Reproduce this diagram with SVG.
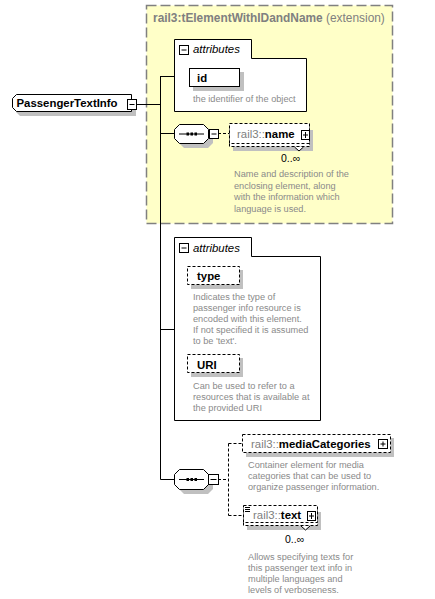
<svg xmlns="http://www.w3.org/2000/svg" width="435" height="599" viewBox="0 0 435 599">
<style>
text{font-family:"Liberation Sans",Arial,sans-serif}
.title{font-size:11.9px;font-weight:bold;fill:#808080}
.ext{font-size:11.9px;fill:#808080}
.nm{font-size:11.4px;font-weight:bold;fill:#000}
.pre{font-size:11.4px;fill:#808080}
.desc{font-size:9.2px;fill:#8a8a8a}
.att{font-size:11.4px;font-style:italic;fill:#000}
.occ{font-size:10.5px;fill:#000}
.shadow{fill:#c0c0c0;stroke:none}
.box{fill:#fff;stroke:#000;stroke-width:1}
.dbox{fill:#fff;stroke:#000;stroke-width:1;stroke-dasharray:3,2}
.ln{stroke:#000;stroke-width:1;fill:none}
.dln{stroke:#000;stroke-width:1;fill:none;stroke-dasharray:3,2}
.pm{fill:#fff;stroke:#000;stroke-width:1}
</style>
<rect width="435" height="599" fill="#fff"/>

<g id="extension">
<rect x="146.5" y="5.5" width="246" height="218" fill="#ffffc8" stroke="#808080" stroke-width="1.5" stroke-dasharray="10,4"/>
<text x="153" y="22"><tspan class="title">rail3:tElementWithIDandName</tspan><tspan class="ext"> (extension)</tspan></text>
</g>

<g id="connectors">
<line class="ln" x1="136" y1="104.5" x2="160.5" y2="104.5"/>
<line class="ln" x1="160.5" y1="76" x2="160.5" y2="479.5"/>
<line class="ln" x1="160.5" y1="76.5" x2="174" y2="76.5"/>
<line class="ln" x1="160.5" y1="133.5" x2="174" y2="133.5"/>
<line class="ln" x1="160.5" y1="329.5" x2="174" y2="329.5"/>
<line class="ln" x1="160.5" y1="479.5" x2="174" y2="479.5"/>
<line class="dln" x1="218" y1="133.5" x2="229" y2="133.5"/>
<line class="dln" x1="218" y1="479.5" x2="228.5" y2="479.5"/>
<line class="dln" x1="228.5" y1="443.5" x2="228.5" y2="515.5"/>
<line class="dln" x1="228.5" y1="443.5" x2="242" y2="443.5"/>
<line class="dln" x1="228.5" y1="515.5" x2="243" y2="515.5"/>
</g>

<g id="PassengerTextInfo">
<path class="shadow" d="M20 99 H136 V116 H20 L16 112 V103 Z"/>
<path class="box" d="M16.5 94.5 H131.5 V111.5 H16.5 L12.5 107.5 V98.5 Z"/>
<text class="nm" x="16.5" y="107">PassengerTextInfo</text>
<rect class="pm" x="127.5" y="99.5" width="9" height="10"/>
<line class="ln" x1="129.5" y1="104.5" x2="134.5" y2="104.5"/>
</g>

<g id="attributes1">
<path class="box" d="M174.5 39.5 H251.5 V58.5 H306.5 V111.5 H174.5 Z"/>
<rect class="pm" x="179.5" y="45.5" width="9" height="9"/>
<line class="ln" x1="181.5" y1="50" x2="186.5" y2="50"/>
<text class="att" x="193" y="53">attributes</text>
</g>

<g id="attr-id">
<rect class="shadow" x="193" y="72" width="51" height="19"/>
<rect class="box" x="189.5" y="68.5" width="50" height="18"/>
<text class="nm" x="197" y="82">id</text>
<text class="desc" x="193" y="102">the identifier of the object</text>
</g>

<g id="sequence1">
<path class="shadow" d="M184 128 H208 L213 133 V143 L208 148 H184 L179 143 V133 Z"/>
<path class="box" d="M179.5 124.5 H203.5 L208.5 129.5 V138.5 L203.5 143.5 H179.5 L174.5 138.5 V129.5 Z"/>
<line class="ln" x1="179" y1="134" x2="204" y2="134"/>
<rect x="186.5" y="132.5" width="2.5" height="3" fill="#000"/>
<rect x="190.5" y="132.5" width="2.5" height="3" fill="#000"/>
<rect x="194.5" y="132.5" width="2.5" height="3" fill="#000"/>
<rect class="pm" x="209.5" y="129.5" width="9" height="9"/>
<line class="ln" x1="211.5" y1="134" x2="216.5" y2="134"/>
</g>

<g id="name">
<rect class="shadow" x="233" y="130" width="80" height="21"/>
<rect class="dbox" x="229.5" y="126.5" width="80" height="20"/>
<rect class="dbox" x="229.5" y="123.5" width="80" height="20"/>
<path d="M294.5 147 L299 151 L303.5 147" fill="#fff" stroke="#000" stroke-width="1"/>
<text x="237" y="138"><tspan class="pre">rail3::</tspan><tspan class="nm">name</tspan></text>
<rect class="pm" x="301.5" y="130.5" width="8" height="9"/>
<line class="ln" x1="303" y1="135" x2="308" y2="135"/>
<line class="ln" x1="305.5" y1="132" x2="305.5" y2="138"/>
<text class="occ" x="281" y="162">0..∞</text>
<text class="desc"><tspan x="234" y="177">Name and description of the</tspan><tspan x="234" y="188.5">enclosing element, along</tspan><tspan x="234" y="200">with the information which</tspan><tspan x="234" y="211.5">language is used.</tspan></text>
</g>

<g id="attributes2">
<path class="box" d="M174.5 237.5 H251.5 V256.5 H320.5 V420.5 H174.5 Z"/>
<rect class="pm" x="179.5" y="243.5" width="9" height="9"/>
<line class="ln" x1="181.5" y1="248" x2="186.5" y2="248"/>
<text class="att" x="193" y="251.5">attributes</text>
</g>

<g id="attr-type">
<rect class="shadow" x="191" y="270" width="52" height="19"/>
<rect class="dbox" x="187.5" y="266.5" width="52" height="18"/>
<text class="nm" x="197" y="280">type</text>
<text class="desc"><tspan x="193" y="300">Indicates the type of</tspan><tspan x="193" y="311">passenger info resource is</tspan><tspan x="193" y="322">encoded with this element.</tspan><tspan x="193" y="333">If not specified it is assumed</tspan><tspan x="193" y="344">to be 'text'.</tspan></text>
</g>

<g id="attr-URI">
<rect class="shadow" x="191" y="358" width="52" height="19"/>
<rect class="dbox" x="187.5" y="354.5" width="52" height="18"/>
<text class="nm" x="197" y="368.5">URI</text>
<text class="desc"><tspan x="193" y="389">Can be used to refer to a</tspan><tspan x="193" y="400">resources that is available at</tspan><tspan x="193" y="411">the provided URI</tspan></text>
</g>

<g id="sequence2">
<path class="shadow" d="M184 474 H208 L213 479 V489 L208 494 H184 L179 489 V479 Z"/>
<path class="box" d="M179.5 469.5 H203.5 L208.5 474.5 V484.5 L203.5 489.5 H179.5 L174.5 484.5 V474.5 Z"/>
<line class="ln" x1="179" y1="479.5" x2="204" y2="479.5"/>
<rect x="186.5" y="478" width="2.5" height="3" fill="#000"/>
<rect x="190.5" y="478" width="2.5" height="3" fill="#000"/>
<rect x="194.5" y="478" width="2.5" height="3" fill="#000"/>
<rect class="pm" x="208.5" y="474.5" width="10" height="10"/>
<line class="ln" x1="210.5" y1="479.5" x2="216.5" y2="479.5"/>
</g>

<g id="mediaCategories">
<rect class="shadow" x="246" y="438" width="148" height="19"/>
<rect class="dbox" x="242.5" y="434.5" width="148" height="18"/>
<text x="251" y="448"><tspan class="pre">rail3::</tspan><tspan class="nm">mediaCategories</tspan></text>
<rect class="pm" x="378.5" y="439.5" width="9" height="9"/>
<line class="ln" x1="380.5" y1="444" x2="385.5" y2="444"/>
<line class="ln" x1="383" y1="441.5" x2="383" y2="446.5"/>
<text class="desc"><tspan x="248" y="468">Container element for media</tspan><tspan x="248" y="479">categories that can be used to</tspan><tspan x="248" y="490">organize passenger information.</tspan></text>
</g>

<g id="text">
<rect class="shadow" x="247" y="512" width="74" height="18"/>
<rect class="dbox" x="243.5" y="508.5" width="74" height="17"/>
<rect class="dbox" x="243.5" y="505.5" width="74" height="17"/>
<path d="M301 526 L305.5 530 L310 526" fill="#fff" stroke="#000" stroke-width="1"/>
<line class="ln" x1="245" y1="507.5" x2="250" y2="507.5"/>
<line class="ln" x1="245" y1="509.5" x2="250" y2="509.5"/>
<line class="ln" x1="245" y1="511.5" x2="250" y2="511.5"/>
<text x="253" y="518.5"><tspan class="pre">rail3::</tspan><tspan class="nm">text</tspan></text>
<rect class="pm" x="307.5" y="511.5" width="8" height="9"/>
<line class="ln" x1="309" y1="516" x2="314" y2="516"/>
<line class="ln" x1="311.5" y1="513" x2="311.5" y2="519"/>
<text class="occ" x="285" y="543">0..∞</text>
<text class="desc"><tspan x="248" y="560">Allows specifying texts for</tspan><tspan x="248" y="571">this passenger text info in</tspan><tspan x="248" y="582">multiple languages and</tspan><tspan x="248" y="593">levels of verboseness.</tspan></text>
</g>
</svg>
